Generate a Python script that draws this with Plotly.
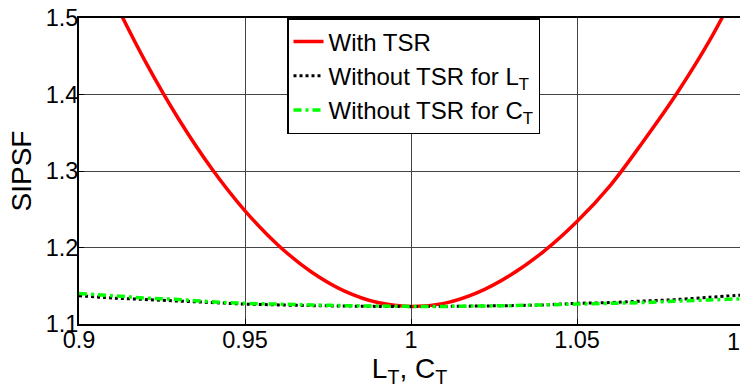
import plotly.graph_objects as go

x = [0.90, 0.91, 0.92, 0.93, 0.94, 0.95, 0.96, 0.97, 0.98, 0.99, 1.00,
     1.01, 1.02, 1.03, 1.04, 1.05, 1.06, 1.07, 1.08, 1.09, 1.10]
with_tsr = [1.620, 1.528, 1.443, 1.368, 1.303, 1.248, 1.203, 1.168, 1.143, 1.128, 1.123,
            1.127, 1.141, 1.164, 1.195, 1.234, 1.281, 1.339, 1.401, 1.471, 1.553]
without_lt = [1.137, 1.134, 1.132, 1.130, 1.128, 1.126, 1.125, 1.124, 1.1235, 1.123, 1.123,
              1.123, 1.1235, 1.124, 1.125, 1.127, 1.128, 1.130, 1.132, 1.135, 1.138]
without_ct = [1.140, 1.137, 1.134, 1.132, 1.129, 1.127, 1.126, 1.125, 1.124, 1.1235, 1.123,
              1.123, 1.1235, 1.124, 1.125, 1.126, 1.127, 1.128, 1.130, 1.1315, 1.133]

xtick_vals = [0.9, 0.95, 1.0, 1.05]
xtick_text = ["0.9", "0.95", "1", "1.05"]
ytick_vals = [1.1, 1.2, 1.3, 1.4, 1.5]
ytick_text = ["1.1", "1.2", "1.3", "1.4", "1.5"]

FONT = "Arial, Liberation Sans, sans-serif"

fig = go.Figure()
fig.add_trace(go.Scatter(x=x, y=with_tsr, mode="lines", name="With TSR",
                         line=dict(color="#ff0000", width=3.5, shape="spline")))
fig.add_trace(go.Scatter(x=x, y=without_lt, mode="lines", name="Without TSR for L<sub>T</sub>",
                         line=dict(color="#000000", width=3, dash="dot", shape="spline")))
fig.add_trace(go.Scatter(x=x, y=without_ct, mode="lines", name="Without TSR for C<sub>T</sub>",
                         line=dict(color="#00ff00", width=3.5, dash="8px,4px,3px,4px", shape="spline")))

fig.update_layout(
    width=740, height=390,
    margin=dict(l=79, r=0, t=18, b=66),
    paper_bgcolor="white", plot_bgcolor="white",
    font=dict(family=FONT, size=23.5, color="black"),
    showlegend=True,
    legend=dict(x=208/661, y=1, xanchor="left", yanchor="top",
                bgcolor="white", bordercolor="black", borderwidth=1.5,
                font=dict(size=24), itemwidth=30, tracegroupgap=0),
    xaxis=dict(range=[0.9, 0.9 + 661/3320], tickvals=xtick_vals, ticktext=xtick_text,
               showgrid=True, gridcolor="#444", gridwidth=1, zeroline=False,
               showline=True, linecolor="black", linewidth=2, mirror=True,
               ticks="inside", ticklen=5, tickcolor="black", ticklabelstandoff=-6,
               title=dict(text="L<sub>T</sub>, C<sub>T</sub>", standoff=2)),
    yaxis=dict(range=[1.1, 1.5], tickvals=ytick_vals, ticktext=ytick_text,
               showgrid=True, gridcolor="#444", gridwidth=1, zeroline=False,
               showline=True, linecolor="black", linewidth=2,
               ticks="inside", ticklen=5, tickcolor="black", ticklabelstandoff=-6,
               title=dict(text="SIPSF", standoff=6)),
)

fig.add_annotation(text="1.1", x=(743-79)/661, y=0, xref="paper", yref="paper",
                   xanchor="center", yanchor="top", showarrow=False, yshift=-3,
                   font=dict(family=FONT, size=23.5, color="black"))

fig.write_html("out.html")
